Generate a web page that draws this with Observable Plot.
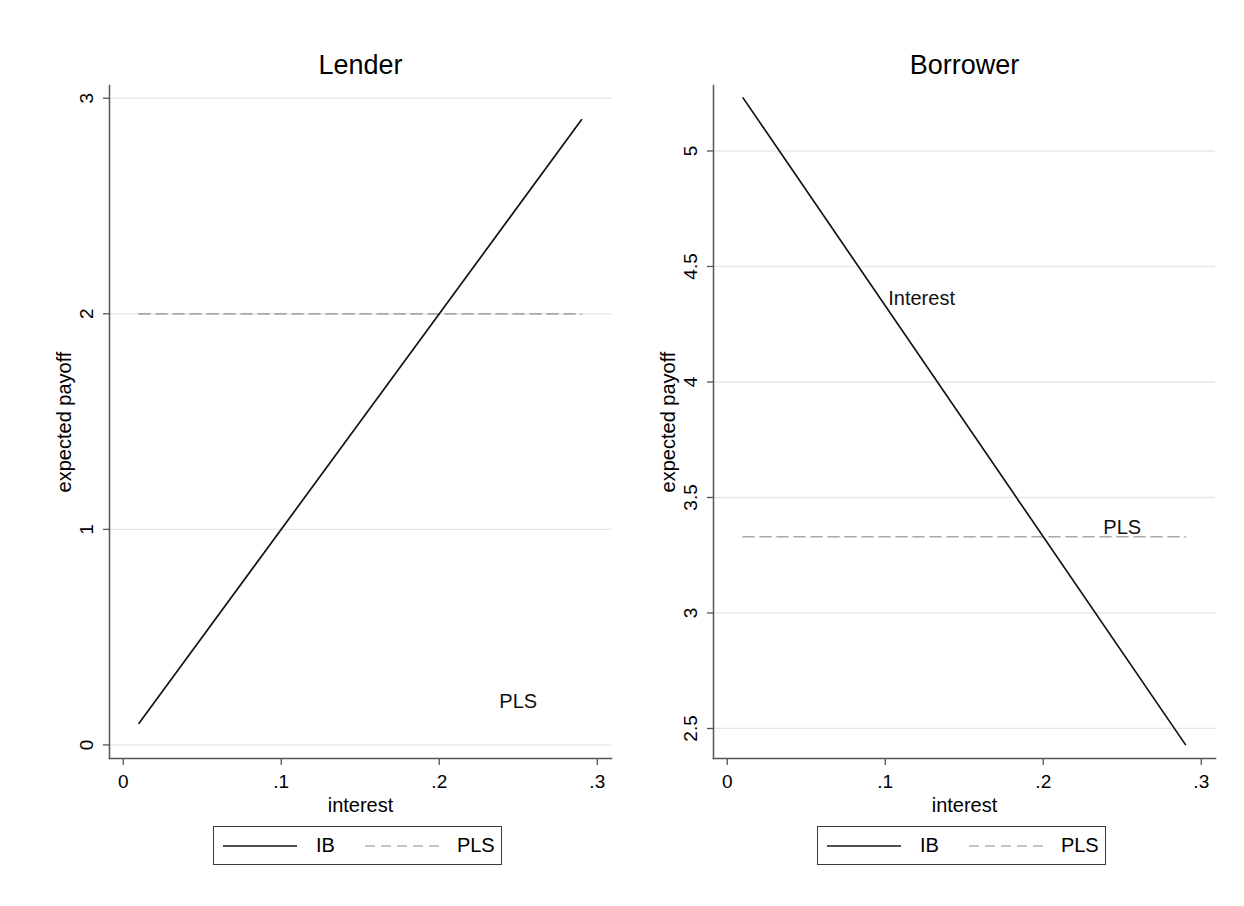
<!DOCTYPE html>
<html>
<head>
<meta charset="utf-8">
<script src="https://cdn.jsdelivr.net/npm/d3@7"></script>
<script src="https://cdn.jsdelivr.net/npm/@observablehq/plot@0.6"></script>
<style>
  html, body { margin: 0; padding: 0; background: #fff; }
  body { font-family: "Liberation Sans", Arial, Helvetica, sans-serif; color: #000; }
  #wrap { position: relative; width: 1244px; height: 906px; overflow: hidden; background: #fff; }
  .panel { position: absolute; top: 0; }
  .legend { position: absolute; top: 826px; height: 39px; width: 289px; box-sizing: border-box;
            border: 1.5px solid #3a3a3a; background: #fff; display: flex; align-items: center;
            font-size: 20px; padding-left: 9px; }
  .legend svg { display: block; }
  .legend .lab { display: inline-block; }
</style>
</head>
<body>
<div id="wrap"></div>
<script>
// ---- data ----
const interest = [0.01, 0.29];          // x range of the plotted lines
const lenderIB = [0.1, 2.9];
const lenderPLS = [2, 2];
const borrowerIB = [5.23, 2.43];
const borrowerPLS = [3.33, 3.33];

const xTicks = [0, 0.1, 0.2, 0.3];
const lenderYTicks = [0, 1, 2, 3];
const borrowerYTicks = [2.5, 3, 3.5, 4, 4.5, 5];

const lenderNoteX = [0.25];
const lenderNoteY = [0.2];
const lenderNoteText = ["PLS"];
const borrowerNoteX = [0.123, 0.25];
const borrowerNoteY = [4.36, 3.37];
const borrowerNoteText = ["Interest", "PLS"];

const seriesNames = ["IB", "PLS"];
const panelTitles = ["Lender", "Borrower"];
const xLabel = "interest";
const yLabel = "expected payoff";

// ---- helpers ----
const FONT = "Liberation Sans, Arial, Helvetica, sans-serif";
const xFmt = d => d === 0 ? "0" : String(d).replace(/^0\./, ".");

function makePanel({title, ib, pls, yTicks, yDomain, nx, ny, nt}) {
  const ibRows = interest.map((x, i) => ({interest: x, payoff: ib[i]}));
  const plsRows = interest.map((x, i) => ({interest: x, payoff: pls[i]}));
  const notes = nt.map((t, i) => ({x: nx[i], y: ny[i], text: t}));
  return Plot.plot({
    width: 620,
    height: 906,
    marginLeft: 109,
    marginRight: 9,
    marginTop: 85,
    marginBottom: 148,
    style: {fontFamily: FONT, fontSize: "19px", color: "#000", background: "transparent", overflow: "visible"},
    x: {domain: [-0.0087, 0.309]},
    y: {domain: yDomain},
    marks: [
      Plot.gridY(yTicks, {stroke: "#e6e6e6", strokeOpacity: 1, strokeWidth: 1.3}),
      Plot.frame({anchor: "left", stroke: "#555", strokeWidth: 1.5}),
      Plot.frame({anchor: "bottom", stroke: "#555", strokeWidth: 1.5}),
      Plot.axisX(xTicks, {tickSize: 7, tickPadding: 9, tickFormat: xFmt, label: null, stroke: "#555", strokeWidth: 1.3, fontSize: 19}),
      Plot.axisY(yTicks, {tickSize: 6, tickPadding: 11, tickRotate: -90, tickFormat: d => String(d), label: null, stroke: "#555", strokeWidth: 1.3, fontSize: 19}),
      Plot.line(plsRows, {x: "interest", y: "payoff", stroke: "#a8a8a8", strokeWidth: 1.7, strokeDasharray: "11,6"}),
      Plot.line(ibRows, {x: "interest", y: "payoff", stroke: "#141414", strokeWidth: 1.7}),
      Plot.text(notes, {x: "x", y: "y", text: "text", fontSize: 20, fill: "#111"}),
      Plot.text([title], {text: d => d, frameAnchor: "top", textAnchor: "middle", lineAnchor: "middle", dy: -20, fontSize: 27, fill: "#000"}),
      Plot.text([xLabel], {text: d => d, frameAnchor: "bottom", textAnchor: "middle", lineAnchor: "middle", dy: 47, fontSize: 20, fill: "#000"}),
      Plot.text([yLabel], {text: d => d, frameAnchor: "left", textAnchor: "middle", lineAnchor: "middle", dx: -45, rotate: -90, fontSize: 20, fill: "#000"})
    ]
  });
}

function makeLegend(left) {
  const div = document.createElement("div");
  div.className = "legend";
  div.style.left = left + "px";
  div.innerHTML =
    `<svg width="74" height="10"><line x1="0" y1="5" x2="74" y2="5" stroke="#141414" stroke-width="1.7"/></svg>` +
    `<span class="lab" style="margin-left:19px">${seriesNames[0]}</span>` +
    `<svg width="78" height="10" style="margin-left:30px"><line x1="0" y1="5" x2="78" y2="5" stroke="#b4b4b4" stroke-width="1.7" stroke-dasharray="10,6"/></svg>` +
    `<span class="lab" style="margin-left:14px">${seriesNames[1]}</span>`;
  return div;
}

const wrap = document.getElementById("wrap");

const left = makePanel({title: panelTitles[0], ib: lenderIB, pls: lenderPLS, yTicks: lenderYTicks,
  yDomain: [-0.063, 3.059], nx: lenderNoteX, ny: lenderNoteY, nt: lenderNoteText});
left.classList.add("panel");
left.style.left = "0px";
wrap.appendChild(left);

const right = makePanel({title: panelTitles[1], ib: borrowerIB, pls: borrowerPLS, yTicks: borrowerYTicks,
  yDomain: [2.370, 5.2835], nx: borrowerNoteX, ny: borrowerNoteY, nt: borrowerNoteText});
right.classList.add("panel");
right.style.left = "604px";
wrap.appendChild(right);

wrap.appendChild(makeLegend(213));
wrap.appendChild(makeLegend(817));
</script>
</body>
</html>
